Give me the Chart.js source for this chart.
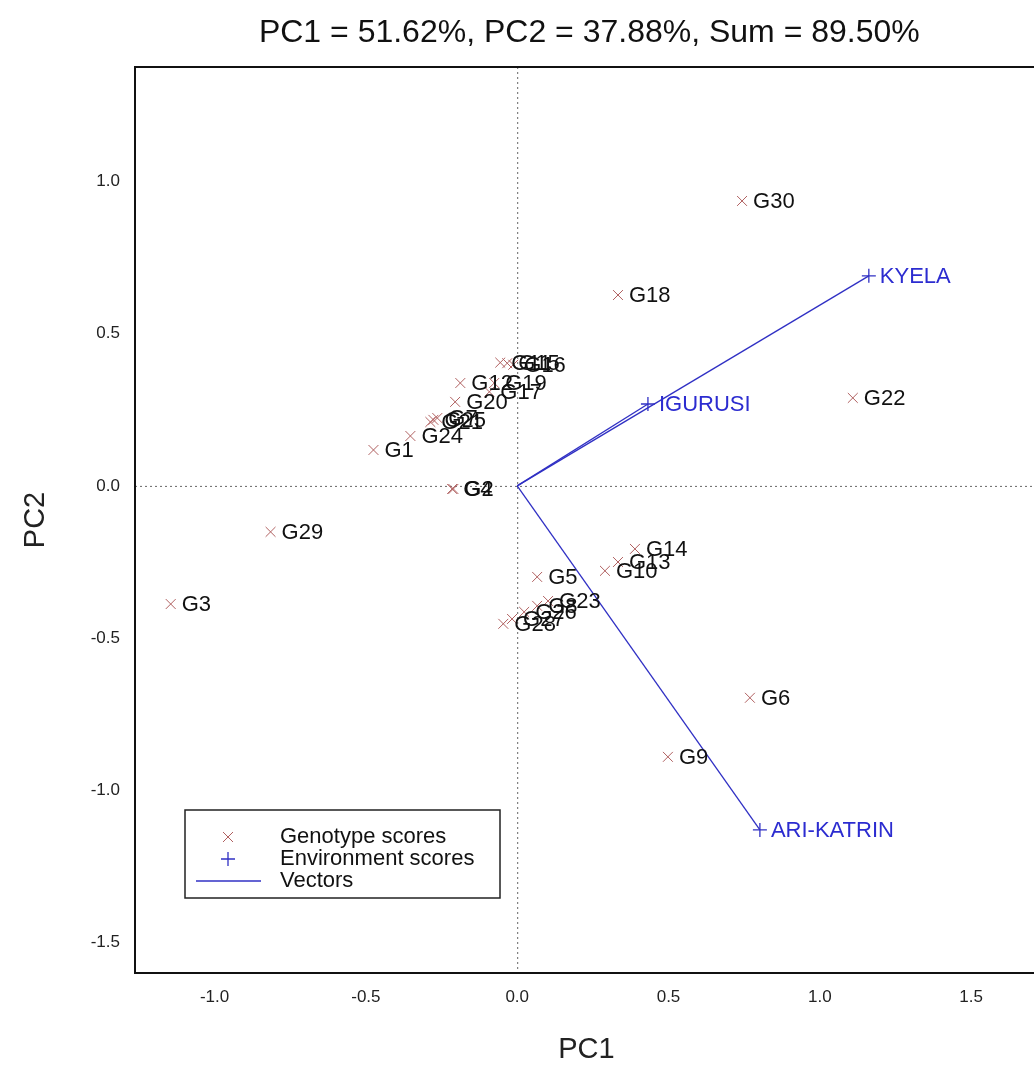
<!DOCTYPE html>
<html>
<head>
<meta charset="utf-8">
<script src="https://cdn.jsdelivr.net/npm/chart.js@4/dist/chart.umd.min.js"></script>
<style>
html, body { margin: 0; padding: 0; overflow: hidden; background: #fff; }
#wrap { width: 1034px; height: 1077px; overflow: hidden; }
canvas { display: block; }
</style>
</head>
<body>
<div id="wrap"><canvas id="c" width="1046" height="1077" style="width:1046px;height:1077px"></canvas></div>
<script>
// ---- data ----
const genotypes = ['G1','G2','G3','G4','G5','G6','G7','G8','G9','G10','G11','G12','G13','G14','G15','G16','G17','G18','G19','G20','G21','G22','G23','G24','G25','G26','G27','G28','G29','G30'];
const genoPC1 = [-0.475,-0.211,-1.145,-0.215,0.066,0.769,-0.264,0.066,0.498,0.290,-0.056,-0.188,0.333,0.389,-0.033,-0.013,-0.092,0.333,-0.076,-0.205,-0.287,1.109,0.102,-0.353,-0.277,0.023,-0.017,-0.046,-0.815,0.743];
const genoPC2 = [0.118,-0.010,-0.388,-0.010,-0.299,-0.696,0.223,-0.394,-0.890,-0.279,0.405,0.338,-0.250,-0.207,0.403,0.398,0.309,0.627,0.338,0.276,0.210,0.289,-0.378,0.164,0.217,-0.414,-0.437,-0.453,-0.151,0.936];
const environments = ['IGURUSI','KYELA','ARI-KATRIN'];
const envPC1 = [0.432, 1.162, 0.802];
const envPC2 = [0.269, 0.690, -1.130];
const xTicks = [-1.0, -0.5, 0.0, 0.5, 1.0, 1.5];
const yTicks = [-1.5, -1.0, -0.5, 0.0, 0.5, 1.0];
const titleText = 'PC1 = 51.62%, PC2 = 37.88%, Sum = 89.50%';
const legendItems = ['Genotype scores', 'Environment scores', 'Vectors'];

const FONT = "'Liberation Sans', Arial, Helvetica, sans-serif";
const GENO_COLOR = '#b06060';
const ENV_COLOR = '#3030c4';
const ENV_TEXT = '#2c2cd0';

const genoData = genotypes.map((g, i) => ({x: genoPC1[i], y: genoPC2[i]}));
const envData = environments.map((e, i) => ({x: envPC1[i], y: envPC2[i]}));

const vectorSets = environments.map((e, i) => ({
  label: 'Vector ' + e,
  type: 'line',
  data: [{x: 0, y: 0}, {x: envPC1[i], y: envPC2[i]}],
  borderColor: ENV_COLOR,
  borderWidth: 1.3,
  pointRadius: 0,
  showLine: true,
  fill: false,
  order: 3
}));

const framePlugin = {
  id: 'frame',
  beforeDatasetsDraw(chart) {
    const {ctx, chartArea: a, scales} = chart;
    const x0 = scales.x.getPixelForValue(0);
    const y0 = scales.y.getPixelForValue(0);
    ctx.save();
    ctx.strokeStyle = '#666';
    ctx.lineWidth = 1;
    ctx.setLineDash([2, 3]);
    ctx.beginPath();
    ctx.moveTo(x0 + 0.5, a.top); ctx.lineTo(x0 + 0.5, a.bottom);
    ctx.moveTo(a.left, y0 + 0.5); ctx.lineTo(a.right, y0 + 0.5);
    ctx.stroke();
    ctx.restore();
  },
  afterDraw(chart) {
    const {ctx, chartArea: a} = chart;
    ctx.save();
    ctx.strokeStyle = '#111';
    ctx.lineWidth = 2;
    ctx.strokeRect(a.left, a.top, a.right - a.left, a.bottom - a.top);
    // title
    ctx.fillStyle = '#111';
    ctx.font = '32px ' + FONT;
    ctx.textAlign = 'center';
    ctx.textBaseline = 'middle';
    ctx.fillText(titleText, (a.left + a.right) / 2 + 3, 33);
    // legend
    const bx = 185, by = 810, bw = 315, bh = 88;
    ctx.fillStyle = '#fff';
    ctx.fillRect(bx, by, bw, bh);
    ctx.lineWidth = 1.5;
    ctx.strokeStyle = '#222';
    ctx.strokeRect(bx, by, bw, bh);
    const rows = [837, 859, 881];
    const mx = 228;
    ctx.lineWidth = 1;
    ctx.strokeStyle = GENO_COLOR;
    ctx.beginPath();
    ctx.moveTo(mx - 5, rows[0] - 5); ctx.lineTo(mx + 5, rows[0] + 5);
    ctx.moveTo(mx + 5, rows[0] - 5); ctx.lineTo(mx - 5, rows[0] + 5);
    ctx.stroke();
    ctx.strokeStyle = ENV_COLOR;
    ctx.lineWidth = 1.3;
    ctx.beginPath();
    ctx.moveTo(mx - 7, rows[1]); ctx.lineTo(mx + 7, rows[1]);
    ctx.moveTo(mx, rows[1] - 7); ctx.lineTo(mx, rows[1] + 7);
    ctx.stroke();
    ctx.beginPath();
    ctx.moveTo(196, rows[2]); ctx.lineTo(261, rows[2]);
    ctx.stroke();
    ctx.fillStyle = '#111';
    ctx.font = '22px ' + FONT;
    ctx.textAlign = 'left';
    legendItems.forEach((t, i) => ctx.fillText(t, 280, rows[i]));
    ctx.restore();
  }
};

const labelPlugin = {
  id: 'pointLabels',
  afterDatasetsDraw(chart) {
    const {ctx} = chart;
    ctx.save();
    ctx.font = '22px ' + FONT;
    ctx.textAlign = 'left';
    ctx.textBaseline = 'middle';
    chart.data.datasets.forEach((ds, di) => {
      if (!ds.pointNames) return;
      const meta = chart.getDatasetMeta(di);
      ctx.fillStyle = ds.textColor;
      meta.data.forEach((el, i) => {
        ctx.fillText(ds.pointNames[i], el.x + 11, el.y + 1);
      });
    });
    ctx.restore();
  }
};

new Chart(document.getElementById('c'), {
  type: 'scatter',
  data: {
    datasets: [
      ...vectorSets,
      {
        label: 'Genotype scores',
        data: genoData,
        pointNames: genotypes,
        textColor: '#111',
        pointStyle: 'crossRot',
        pointRadius: 7,
        borderColor: GENO_COLOR,
        backgroundColor: GENO_COLOR,
        pointBorderWidth: 1,
        order: 2
      },
      {
        label: 'Environment scores',
        data: envData,
        pointNames: environments,
        textColor: ENV_TEXT,
        pointStyle: 'cross',
        pointRadius: 7,
        borderColor: ENV_COLOR,
        backgroundColor: ENV_COLOR,
        pointBorderWidth: 1.3,
        order: 1
      }
    ]
  },
  options: {
    responsive: false,
    animation: false,
    devicePixelRatio: 1,
    layout: { padding: { top: 67, left: 0, right: 0, bottom: 0 } },
    plugins: {
      legend: { display: false },
      title: { display: false },
      tooltip: { enabled: false }
    },
    scales: {
      x: {
        type: 'linear',
        min: -1.263,
        max: 1.72,
        afterFit(s) { s.height = 104; },
        afterBuildTicks(s) { s.ticks = xTicks.map(v => ({value: v})); },
        grid: { display: false, drawTicks: false },
        border: { display: false },
        ticks: {
          padding: 14,
          font: { family: FONT, size: 17 },
          color: '#222',
          callback: v => Number(v).toFixed(1)
        },
        title: {
          display: true,
          text: 'PC1',
          font: { family: FONT, size: 29 },
          color: '#222',
          padding: { top: 0, bottom: 10 }
        }
      },
      y: {
        type: 'linear',
        min: -1.6,
        max: 1.376,
        afterFit(s) { s.width = 135; },
        afterBuildTicks(s) { s.ticks = yTicks.map(v => ({value: v})); },
        grid: { display: false, drawTicks: false },
        border: { display: false },
        ticks: {
          padding: 15,
          font: { family: FONT, size: 17 },
          color: '#222',
          callback: v => Number(v).toFixed(1)
        },
        title: {
          display: true,
          text: 'PC2',
          font: { family: FONT, size: 29 },
          color: '#222',
          padding: { top: 19, bottom: 0 }
        }
      }
    }
  },
  plugins: [framePlugin, labelPlugin]
});
</script>
</body>
</html>
